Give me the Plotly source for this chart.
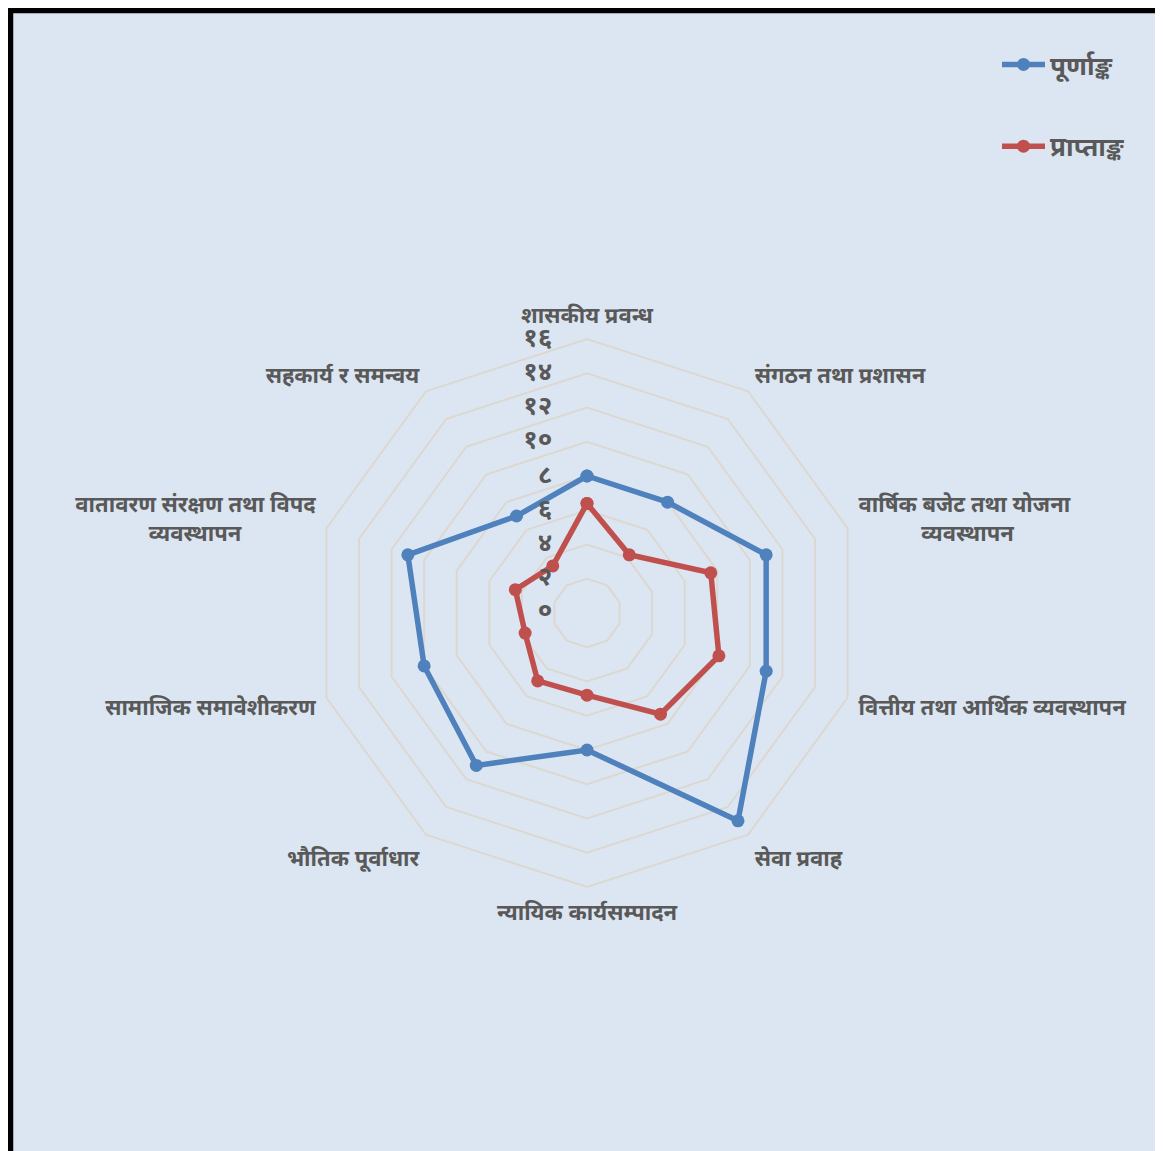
import plotly.graph_objects as go

NB = "\u00a0"
categories = [
    "शासकीय प्रवन्ध",
    "संगठन तथा प्रशासन",
    "वार्षिक बजेट तथा योजना<br>" + NB * 11 + "व्यवस्थापन",
    "वित्तीय तथा आर्थिक व्यवस्थापन",
    "सेवा प्रवाह",
    "न्यायिक कार्यसम्पादन",
    "भौतिक पूर्वाधार",
    "सामाजिक समावेशीकरण",
    "वातावरण संरक्षण तथा विपद<br>व्यवस्थापन" + NB * 13,
    "सहकार्य र समन्वय",
]
full_marks = [8, 8, 11, 11, 15, 8, 11, 10, 11, 7]
obtained = [6.4, 4.2, 7.6, 8.1, 7.3, 4.8, 4.9, 3.8, 4.4, 3.4]
series_names = ["पूर्णाङ्क", "प्राप्ताङ्क"]
tick_vals = [0, 2, 4, 6, 8, 10, 12, 14, 16]
tick_text = ["०", "२", "४", "६", "८", "१०", "१२", "१४", "१६"]

W, H = 1163, 1151
OFF = 8  # page body margin
cx, cy, R = 587 - OFF, 613 - OFF, 274

fig = go.Figure()
for name, vals, color, grp in [
    (series_names[0], full_marks, "#4f81bd", "a"),
    (series_names[1], obtained, "#c0504d", "b"),
]:
    fig.add_trace(go.Scatterpolar(
        r=vals + vals[:1],
        theta=categories + categories[:1],
        mode="lines+markers",
        name=name,
        legendgroup=grp,
        line=dict(color=color, width=5.5),
        marker=dict(color=color, size=13),
    ))

# radial tick labels placed to the left of the vertical axis
# (a tiny epsilon keeps the centre point from being dropped)
fig.add_trace(go.Scatterpolar(
    r=[max(v, 0.02) for v in tick_vals],
    theta=[categories[0]] * len(tick_vals),
    mode="markers+text",
    text=tick_text,
    textposition="middle left",
    textfont=dict(size=26, color="#595959", weight="bold"),
    marker=dict(size=54, opacity=0),
    showlegend=False,
    hoverinfo="skip",
))

grid_col = "#dcd8d1"
fig.update_layout(
    width=W, height=H,
    margin=dict(l=0, r=0, t=0, b=0),
    paper_bgcolor="white",
    font=dict(family="Noto Sans, DejaVu Sans, sans-serif", color="#595959", size=20),
    showlegend=True,
    legend=dict(
        x=(997 - OFF) / W, xanchor="left", y=1 - 33 / H, yanchor="top",
        bgcolor="rgba(0,0,0,0)", tracegroupgap=45, itemwidth=43,
        font=dict(size=26, color="#595959", weight="bold"),
    ),
    polar=dict(
        domain=dict(x=[(cx - R) / W, (cx + R) / W],
                    y=[(H - cy - R) / H, (H - cy + R) / H]),
        bgcolor="rgba(0,0,0,0)",
        gridshape="linear",
        radialaxis=dict(
            range=[0, 16], tickvals=tick_vals,
            angle=90, showline=False, showticklabels=False,
            gridcolor=grid_col, gridwidth=2, ticks="",
        ),
        angularaxis=dict(
            direction="clockwise", rotation=90,
            showgrid=False, showline=True, linecolor=grid_col, linewidth=2,
            ticks="outside", ticklen=6, tickcolor="rgba(0,0,0,0)",
            tickfont=dict(size=22, color="#595959", weight="bold"),
        ),
    ),
    shapes=[dict(
        type="rect", xref="paper", yref="paper", layer="below",
        x0=2 / W, x1=1.05, y0=-0.05, y1=1 - 2 / H,
        fillcolor="#dce6f2", line=dict(color="black", width=6.5),
    )],
)

fig.write_html("out.html")
